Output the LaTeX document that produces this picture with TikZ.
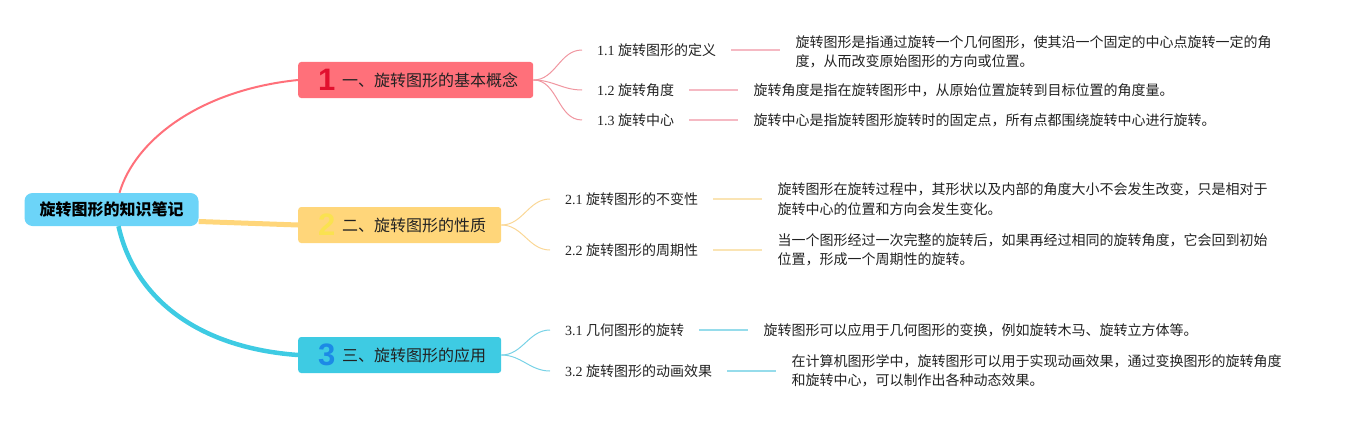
\documentclass[tikz,border=0pt]{standalone}
\usepackage{fontspec}
\setmainfont{Liberation Serif}
\newfontfamily\cjk{Noto Sans CJK SC}
\newfontfamily\numfont{Liberation Sans}
\usetikzlibrary{positioning}
\definecolor{R0}{RGB}{108,212,248}
\definecolor{B1}{RGB}{255,112,122}
\definecolor{B2}{RGB}{255,214,122}
\definecolor{B3}{RGB}{62,203,227}
\definecolor{N1}{RGB}{226, 16, 46}
\definecolor{N2}{RGB}{250,226, 80}
\definecolor{N3}{RGB}{ 28,138,230}
\definecolor{C1}{RGB}{240,150,160}
\definecolor{C2}{RGB}{250,215,150}
\definecolor{C3}{RGB}{120,210,230}
\definecolor{S1}{RGB}{245,185,195}
\definecolor{S2}{RGB}{250,228,180}
\definecolor{S3}{RGB}{150,220,235}
\definecolor{ink}{RGB}{34,34,34}
\newcommand\bnum[2]{\makebox[29pt][l]{\hspace{5pt}\raisebox{-4pt}{\numfont\bfseries\fontsize{31}{31}\selectfont\color{#1}#2}}}

\tikzset{
  rootbox/.style={fill=R0, rounded corners=8pt, inner xsep=15pt, inner ysep=0pt,
    minimum height=33pt, font=\cjk\bfseries\fontsize{16}{18}\selectfont, text=black},
  branchbox/.style={fill=#1, rounded corners=3pt, inner xsep=15pt, inner ysep=0pt,
    minimum height=36pt, font=\cjk\fontsize{16}{18}\selectfont, text=ink, anchor=west},
  leaflabel/.style={inner xsep=15pt, inner ysep=2pt, font=\fontsize{14}{18}\selectfont,
    text=ink, anchor=west},
  leafdesc/.style={inner xsep=15pt, inner ysep=2pt, font=\cjk\fontsize{14}{19.5}\selectfont,
    align=left, text=ink, right=49pt of #1},
}

\begin{document}
\begin{tikzpicture}[x=1pt, y=-1pt]
    \useasboundingbox (0,0) rectangle (1356,420);
    %% root
    \node[rootbox] (root) at (111.5,209.5) {旋转图形的知识笔记};
    %% main branches
    \node[branchbox=B1] (b1) at (298,80)  {\bnum{N1}{1}一、旋转图形的基本概念};
    \node[branchbox=B2] (b2) at (298,225) {\bnum{N2}{2}二、旋转图形的性质};
    \node[branchbox=B3] (b3) at (298,355) {\bnum{N3}{3}三、旋转图形的应用};
    %% root to branches
    \draw[B1, line width=2pt] ([xshift=8pt]root.north) .. controls (135,140) and (200,90) .. (b1.west);
    \draw[B2, line width=5pt] ([yshift=-12pt]root.east) -- (b2.west);
    \draw[B3, line width=4.5pt] ([xshift=7pt]root.south) .. controls (135,300) and (200,348) .. (b3.west);
    %% leaves of branch 1
    \node[leaflabel] (l11) at (582,50)  {1.1 \cjk 旋转图形的定义};
    \node[leaflabel] (l12) at (582,90)  {1.2 \cjk 旋转角度};
    \node[leaflabel] (l13) at (582,120) {1.3 \cjk 旋转中心};
    \node[leafdesc=l11, yshift=-2pt] (d11) {旋转图形是指通过旋转一个几何图形，使其沿一个固定的中心点旋转一定的角\\度，从而改变原始图形的方向或位置。};
    \node[leafdesc=l12] (d12) {旋转角度是指在旋转图形中，从原始位置旋转到目标位置的角度量。};
    \node[leafdesc=l13] (d13) {旋转中心是指旋转图形旋转时的固定点，所有点都围绕旋转中心进行旋转。};
    %% leaves of branch 2
    \node[leaflabel] (l21) at (550,199) {2.1 \cjk 旋转图形的不变性};
    \node[leaflabel] (l22) at (550,250) {2.2 \cjk 旋转图形的周期性};
    \node[leafdesc=l21] (d21) {旋转图形在旋转过程中，其形状以及内部的角度大小不会发生改变，只是相对于\\旋转中心的位置和方向会发生变化。};
    \node[leafdesc=l22] (d22) {当一个图形经过一次完整的旋转后，如果再经过相同的旋转角度，它会回到初始\\位置，形成一个周期性的旋转。};
    %% leaves of branch 3
    \node[leaflabel] (l31) at (550,330) {3.1 \cjk 几何图形的旋转};
    \node[leaflabel] (l32) at (550,371) {3.2 \cjk 旋转图形的动画效果};
    \node[leafdesc=l31] (d31) {旋转图形可以应用于几何图形的变换，例如旋转木马、旋转立方体等。};
    \node[leafdesc=l32] (d32) {在计算机图形学中，旋转图形可以用于实现动画效果，通过变换图形的旋转角度\\和旋转中心，可以制作出各种动态效果。};
    %% branch to leaf curves
    \foreach \b/\l/\c in {b1/l11/C1, b1/l12/C1, b1/l13/C1, b2/l21/C2, b2/l22/C2, b3/l31/C3, b3/l32/C3}
        \draw[\c, line width=1pt] (\b.east) to[out=0, in=180] (\l.west);
    %% label to description lines
    \foreach \l/\d/\c in {l11/d11/S1, l12/d12/S1, l13/d13/S1, l21/d21/S2, l22/d22/S2, l31/d31/S3, l32/d32/S3}
        \draw[\c, line width=1.5pt] (\l.east) -- (\l.east -| \d.west);
\end{tikzpicture}
\end{document}
